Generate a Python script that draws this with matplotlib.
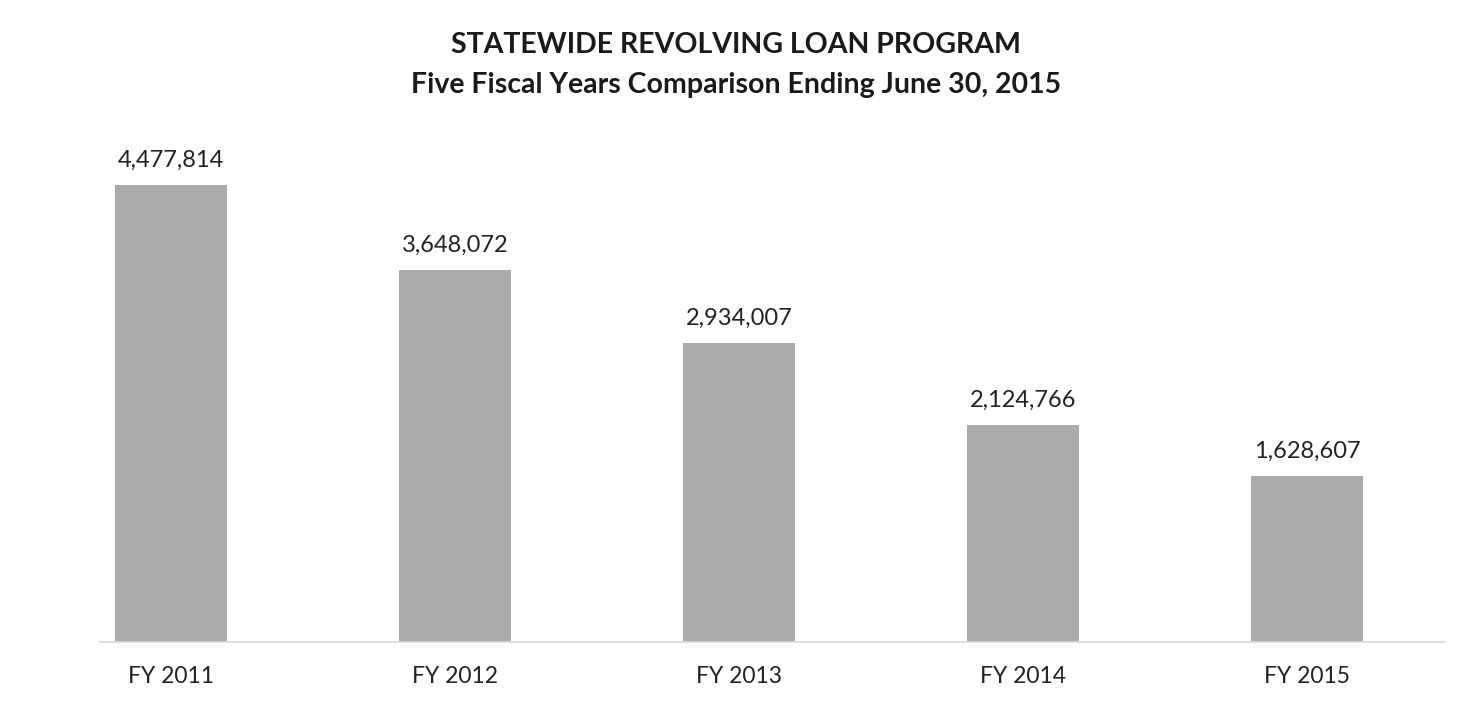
import matplotlib.pyplot as plt

years = ['FY 2011', 'FY 2012', 'FY 2013', 'FY 2014', 'FY 2015']
amounts = [4477814, 3648072, 2934007, 2124766, 1628607]

plt.rcParams['font.family'] = ['Lato', 'DejaVu Sans']

fig = plt.figure(figsize=(14.74, 7.11), dpi=100)
# plot area: baseline at y=642px, top ~ 185px for the biggest bar
ax = fig.add_axes([100 / 1474, (711 - 642) / 711, 1345 / 1474, 520 / 711])

x = range(len(years))
ax.bar(x, amounts, width=0.394, color='#ababab', zorder=2)
ax.set_xlim(-0.25, 4.486)
ax.set_ylim(0, 4477814 * 520 / 457)

for i, v in enumerate(amounts):
    ax.text(i, v + 4477814 * 14 / 457, f'{v:,}', ha='center', va='bottom',
            fontsize=17, color='#222222')

ax.set_xticks(list(x))
ax.set_xticklabels(years, fontsize=16.5, color='#222222')
ax.tick_params(axis='x', length=0, pad=17)
ax.set_yticks([])
for s in ['top', 'right', 'left']:
    ax.spines[s].set_visible(False)
ax.spines['bottom'].set_color('#d9d9d9')
ax.spines['bottom'].set_linewidth(1.2)

fig.text(736 / 1474, 1 - 45 / 711, 'STATEWIDE REVOLVING LOAN PROGRAM', ha='center', va='center',
         fontsize=20.5, fontweight='bold', color='#1a1a1a')
fig.text(736 / 1474, 1 - 85 / 711, 'Five Fiscal Years Comparison Ending June 30, 2015', ha='center',
         va='center', fontsize=20.5, fontweight='bold', color='#1a1a1a')

plt.savefig('out.png', dpi=100)
